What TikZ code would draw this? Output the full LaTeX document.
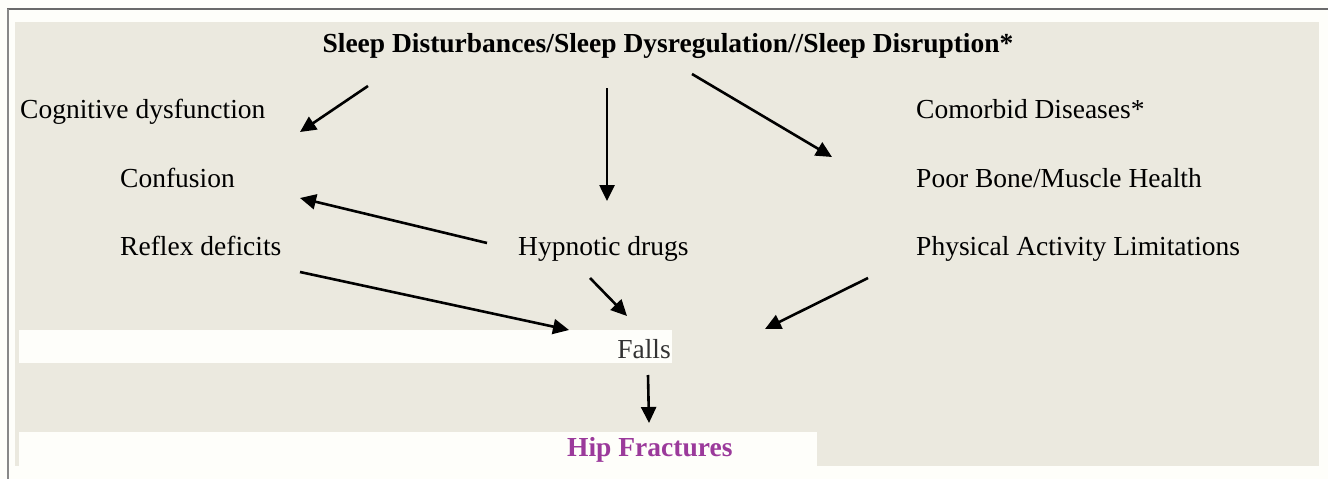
\documentclass[tikz,border=0pt]{standalone}
\usepackage{fontspec}
\setmainfont{Liberation Serif}
\usetikzlibrary{arrows.meta}
\definecolor{pagebg}{HTML}{FEFEFA}
\definecolor{beige}{HTML}{EBE9DF}
\definecolor{framegray}{HTML}{6A6A6A}
\definecolor{hipcol}{HTML}{9B3A9B}
\definecolor{fallcol}{HTML}{333333}
\tikzset{
  lbl/.style={anchor=base west, inner sep=0pt, font=\fontsize{27.5}{30}\selectfont},
  ttl/.style={anchor=base, inner sep=0pt, font=\fontsize{27.5}{30}\selectfont\bfseries},
  arr/.style={draw=black, line width=2.6pt, -{Triangle[length=16pt,width=15pt]}},
}
\begin{document}
\begin{tikzpicture}[x=1pt,y=-1pt]
\useasboundingbox (0,0) rectangle (1328,479);
\fill[pagebg] (0,0) rectangle (1328,479);
% frame lines
\draw[framegray, line width=1.6pt] (7,9) -- (1328,9);
\draw[framegray!80, line width=2pt] (8,9) -- (8,479);
% beige panel
\fill[beige] (15,22) rectangle (1319,466);
% white bands
\fill[pagebg] (19,330) rectangle (672,363);
\fill[pagebg] (19,432) rectangle (817,466);

% texts
\node[ttl] (title) at (668,52) {Sleep Disturbances/Sleep Dysregulation//Sleep Disruption*};
\node[lbl] (cog) at (20,118) {Cognitive dysfunction};
\node[lbl] (conf) at (120,187) {Confusion};
\node[lbl] (refl) at (120,255) {Reflex deficits};
\node[lbl] (hyp) at (518,255) {Hypnotic drugs};
\node[lbl] (comor) at (916,118) {Comorbid Diseases*};
\node[lbl] (bone) at (916,187) {Poor Bone/Muscle Health};
\node[lbl] (phys) at (916,255) {Physical Activity Limitations};
\node[lbl, anchor=base east, text=fallcol] (falls) at (671,358) {Falls};
\node[ttl, anchor=base west, text=hipcol] (hip) at (567,456) {Hip Fractures};

% arrow end points
\coordinate (a1s) at (368,86);  \coordinate (a1e) at (300,132);
\coordinate (a2s) at (607,88);  \coordinate (a2e) at (607,201);
\coordinate (a3s) at (692,74);  \coordinate (a3e) at (832,157);
\coordinate (a4s) at (487,243); \coordinate (a4e) at (300,198);
\coordinate (a5s) at (300,272); \coordinate (a5e) at (569,330);
\coordinate (a6s) at (590,278); \coordinate (a6e) at (627,316);
\coordinate (a7s) at (868,278); \coordinate (a7e) at (765,329);
\coordinate (a8s) at (648,375); \coordinate (a8e) at (649,423);

\draw[arr] (a1s) -- (a1e);
\draw[arr] (a2s) -- (a2e);
\draw[arr] (a3s) -- (a3e);
\draw[arr] (a4s) -- (a4e);
\draw[arr] (a5s) -- (a5e);
\draw[arr] (a6s) -- (a6e);
\draw[arr] (a7s) -- (a7e);
\draw[arr] (a8s) -- (a8e);
\end{tikzpicture}
\end{document}
